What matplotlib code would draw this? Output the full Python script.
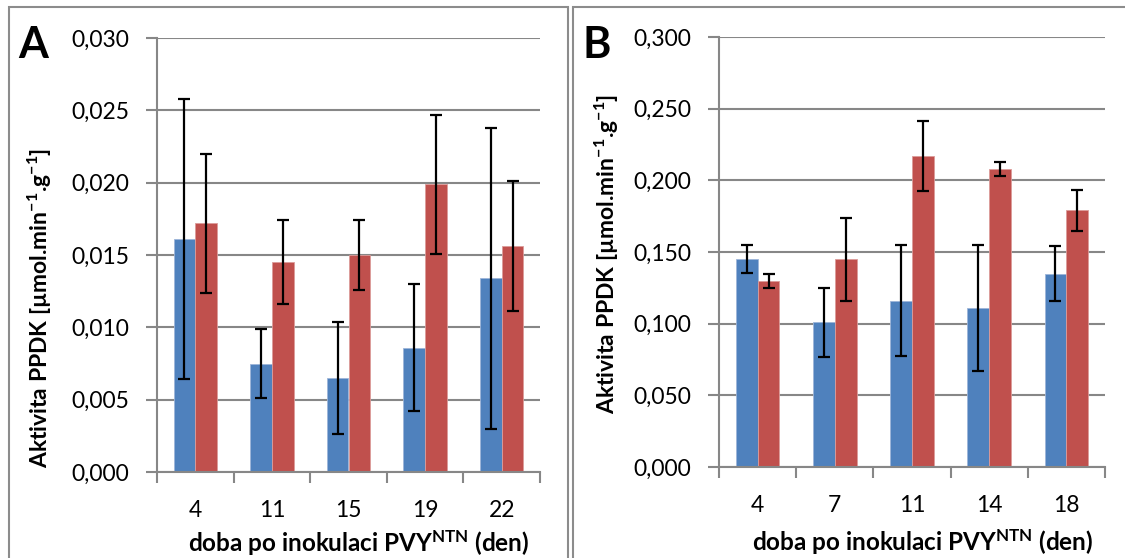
import matplotlib
matplotlib.use('Agg')
import matplotlib.pyplot as plt
import numpy as np
from matplotlib.patches import Rectangle

plt.rcParams['font.family'] = ['Lato', 'DejaVu Sans']
plt.rcParams['mathtext.fontset'] = 'custom'
plt.rcParams['mathtext.rm'] = 'Lato'
plt.rcParams['mathtext.bf'] = 'Lato:bold'

# panel A
dny_A = ['4', '11', '15', '19', '22']
modra_A = [0.0161, 0.0075, 0.0065, 0.0086, 0.0134]
modra_A_err = [0.0097, 0.0024, 0.0039, 0.0044, 0.0104]
cervena_A = [0.0172, 0.0145, 0.0150, 0.0199, 0.0156]
cervena_A_err = [0.0048, 0.0029, 0.0024, 0.0048, 0.0045]
yticks_A = [0.000, 0.005, 0.010, 0.015, 0.020, 0.025, 0.030]

# panel B
dny_B = ['4', '7', '11', '14', '18']
modra_B = [0.145, 0.101, 0.116, 0.111, 0.135]
modra_B_err = [0.0097, 0.024, 0.0386, 0.0437, 0.0194]
cervena_B = [0.130, 0.145, 0.217, 0.208, 0.179]
cervena_B_err = [0.005, 0.029, 0.0243, 0.0047, 0.0144]
yticks_B = [0.000, 0.050, 0.100, 0.150, 0.200, 0.250, 0.300]

modra = '#4F81BD'
cervena = '#C0504D'
seda = '#878787'

W, H = 1125, 558
fig = plt.figure(figsize=(W / 100, H / 100), dpi=100)


def px_axes(x0, y0, x1, y1):
    return fig.add_axes([x0 / W, 1 - y1 / H, (x1 - x0) / W, (y1 - y0) / H])


def kresli(ax, dny, mv, me, cv, ce, yticks):
    x = np.arange(len(dny)) + 0.5
    w = 0.283
    ax.bar(x - w / 2, mv, w, color=modra, edgecolor='#9DB5D9', linewidth=0.6, zorder=2)
    ax.bar(x + w / 2, cv, w, color=cervena, edgecolor='#DC9C9A', linewidth=0.6, zorder=2)
    ax.errorbar(x - w / 2, mv, yerr=me, fmt='none', ecolor='black', elinewidth=1.6,
                capsize=4.3, capthick=1.6, zorder=3)
    ax.errorbar(x + w / 2, cv, yerr=ce, fmt='none', ecolor='black', elinewidth=1.6,
                capsize=4.3, capthick=1.6, zorder=3)
    ax.set_xlim(0, len(dny))
    ax.set_ylim(yticks[0], yticks[-1])
    ax.set_yticks(yticks)
    ax.set_yticklabels([('%.3f' % t).replace('.', ',') for t in yticks], fontsize=16.5)
    ax.set_xticks(np.arange(len(dny) + 1))
    ax.set_xticklabels([])
    ax.set_xticks(x, minor=True)
    ax.set_xticklabels(dny, minor=True, fontsize=16.5)
    ax.tick_params(axis='x', which='major', length=8, width=1.5, color=seda, direction='out')
    ax.tick_params(axis='x', which='minor', length=0, pad=20)
    ax.tick_params(axis='y', length=8, width=1.5, color=seda, pad=12)
    ax.yaxis.grid(True, color=seda, linewidth=1.5, zorder=0)
    ax.set_axisbelow(True)
    for s in ['top', 'right']:
        ax.spines[s].set_visible(False)
    for s in ['left', 'bottom']:
        ax.spines[s].set_color(seda)
        ax.spines[s].set_linewidth(1.5)


axA = px_axes(157, 38, 540, 472)
kresli(axA, dny_A, modra_A, modra_A_err, cervena_A, cervena_A_err, yticks_A)
axB = px_axes(719, 37, 1105, 467)
kresli(axB, dny_B, modra_B, modra_B_err, cervena_B, cervena_B_err, yticks_B)

# ramecky panelu
for x0, x1 in [(9, 568), (573, 1135)]:
    fig.patches.append(Rectangle((x0 / W, -0.1), (x1 - x0) / W, 1 - 7 / H + 0.1,
                                 transform=fig.transFigure, fill=False,
                                 edgecolor='#8C8C8C', linewidth=1.5))

ylab = r'Aktivita PPDK [µmol.min$\mathbf{^{-1}}$.g$\mathbf{^{-1}}$]'
xlab = r'doba po inokulaci PVY$\mathbf{^{NTN}}$ (den)'
fig.text(40 / W, 1 - 308 / H, ylab, rotation=90, ha='center', va='center',
         fontsize=16.5, fontweight='bold')
fig.text(607 / W, 1 - 254 / H, ylab, rotation=90, ha='center', va='center',
         fontsize=16.5, fontweight='bold')
fig.text(359 / W, 1 - 543 / H, xlab, ha='center', va='center', fontsize=17.5, fontweight='bold')
fig.text(923 / W, 1 - 542 / H, xlab, ha='center', va='center', fontsize=17.5, fontweight='bold')
fig.text(18 / W, 1 - 58 / H, 'A', fontsize=31, fontweight='bold', ha='left', va='baseline')
fig.text(582 / W, 1 - 58 / H, 'B', fontsize=31, fontweight='bold', ha='left', va='baseline')

fig.savefig('out.png', dpi=100)
